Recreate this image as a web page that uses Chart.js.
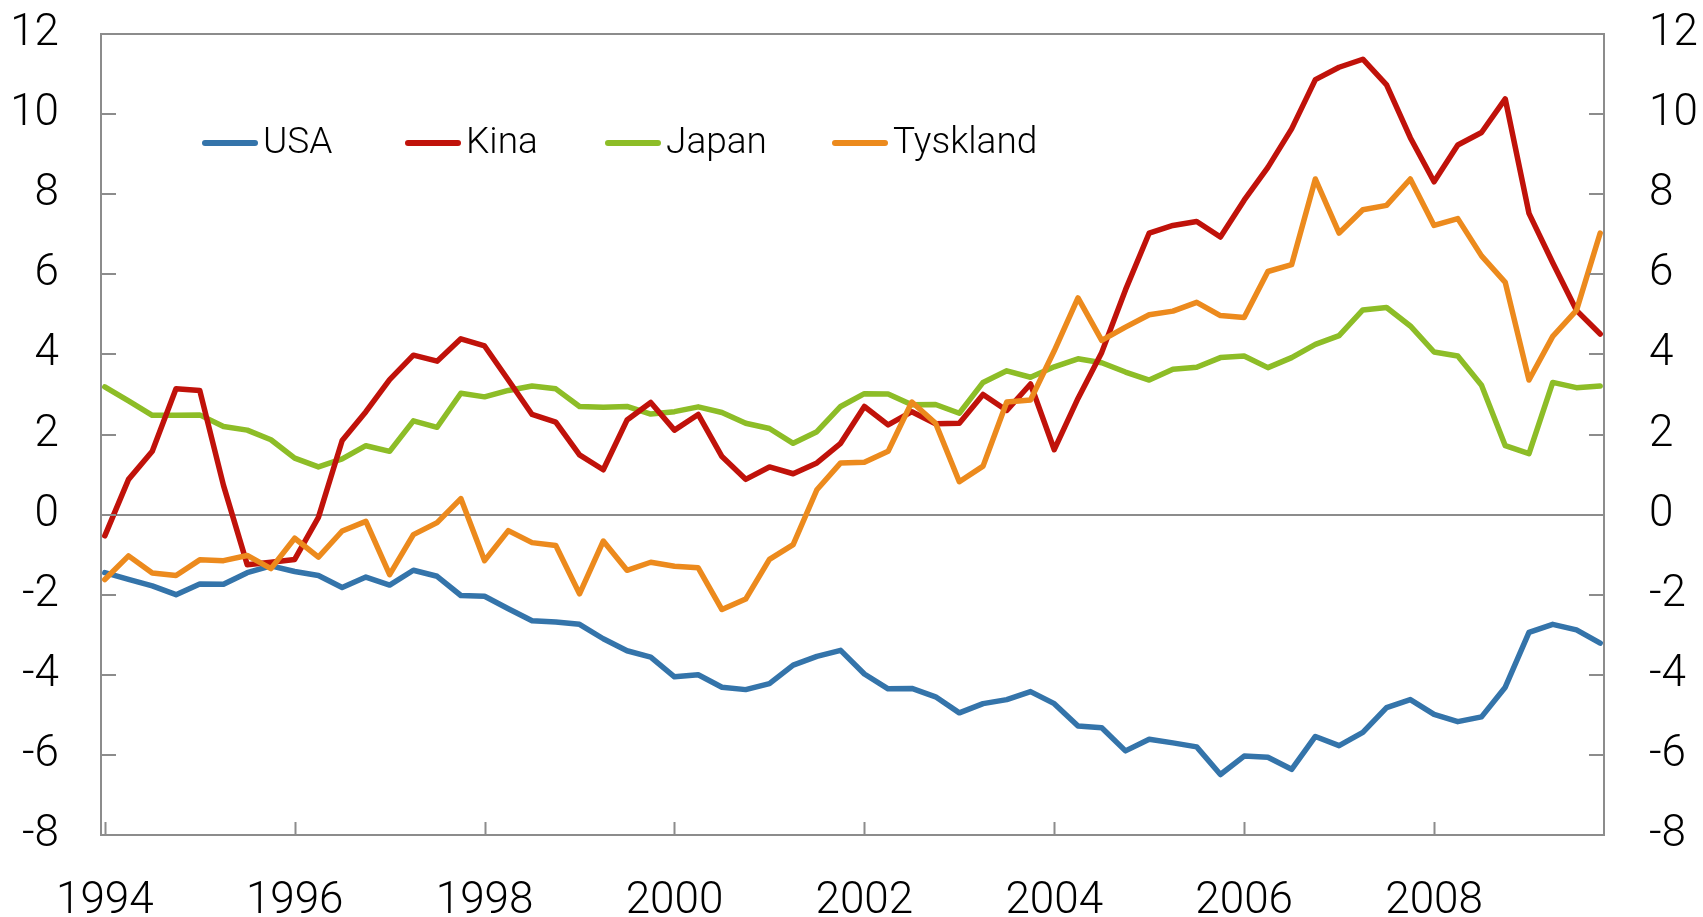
<!DOCTYPE html>
<html lang="no">
<head>
<meta charset="utf-8">
<title>Driftsbalanse</title>
<script src="https://cdn.jsdelivr.net/npm/chart.js@4.4.1/dist/chart.umd.min.js"></script>
<style>
    html, body { margin: 0; padding: 0; background: #fff; }
    #wrap { width: 1703px; height: 917px; }
</style>
</head>
<body>
<div id="wrap"><canvas id="chart" width="1703" height="917"></canvas></div>
<script>
// Kvartaler 1994K1 - 2009K4
const quarters = [];
for (let y = 1994; y <= 2009; y++) {
    for (let q = 1; q <= 4; q++) quarters.push(y + 'K' + q);
}

// Årstall som vises på x-aksen (indeks i quarters)
const yearTicks = [0, 8, 16, 24, 32, 40, 48, 56];
const yearLabels = ['1994', '1996', '1998', '2000', '2002', '2004', '2006', '2008'];

// Verdier på y-aksen
const yTicks = [-8, -6, -4, -2, 0, 2, 4, 6, 8, 10, 12];

const usa = [
    -1.45, -1.62, -1.78, -2.00, -1.73, -1.74, -1.45, -1.28,
    -1.42, -1.52, -1.82, -1.56, -1.76, -1.39, -1.54, -2.02,
    -2.04, -2.35, -2.65, -2.68, -2.74, -3.10, -3.40, -3.56,
    -4.05, -4.00, -4.31, -4.37, -4.22, -3.76, -3.54, -3.39,
    -3.98, -4.35, -4.34, -4.55, -4.95, -4.72, -4.62, -4.42,
    -4.72, -5.28, -5.32, -5.90, -5.61, -5.70, -5.80, -6.49,
    -6.03, -6.06, -6.36, -5.54, -5.77, -5.44, -4.82, -4.62,
    -4.99, -5.17, -5.05, -4.31, -2.94, -2.74, -2.88, -3.21
];

const kina = [
    -0.53, 0.88, 1.58, 3.14, 3.10, 0.73, -1.25, -1.19,
    -1.12, -0.07, 1.85, 2.57, 3.37, 3.98, 3.83, 4.39,
    4.21, 3.36, 2.50, 2.31, 1.49, 1.12, 2.36, 2.80,
    2.11, 2.50, 1.45, 0.88, 1.19, 1.02, 1.29, 1.78,
    2.70, 2.24, 2.57, 2.27, 2.28, 3.00, 2.60, 3.26,
    1.62, 2.90, 4.05, 5.61, 7.03, 7.22, 7.32, 6.93,
    7.85, 8.67, 9.63, 10.86, 11.17, 11.37, 10.73, 9.41,
    8.31, 9.23, 9.54, 10.38, 7.52, 6.29, 5.10, 4.51
];

const japan = [
    3.19, 2.84, 2.48, 2.48, 2.49, 2.20, 2.11, 1.87,
    1.41, 1.19, 1.39, 1.72, 1.58, 2.34, 2.18, 3.03,
    2.94, 3.10, 3.21, 3.14, 2.70, 2.68, 2.70, 2.51,
    2.57, 2.69, 2.55, 2.28, 2.15, 1.78, 2.07, 2.70,
    3.02, 3.01, 2.74, 2.75, 2.53, 3.30, 3.59, 3.43,
    3.69, 3.89, 3.79, 3.56, 3.36, 3.63, 3.68, 3.92,
    3.96, 3.67, 3.92, 4.25, 4.47, 5.11, 5.17, 4.71,
    4.06, 3.96, 3.23, 1.72, 1.52, 3.30, 3.17, 3.21
];

const tyskland = [
    -1.62, -1.03, -1.46, -1.52, -1.13, -1.15, -1.02, -1.35,
    -0.59, -1.06, -0.41, -0.17, -1.50, -0.50, -0.20, 0.40,
    -1.15, -0.40, -0.70, -0.77, -1.98, -0.66, -1.39, -1.19,
    -1.29, -1.33, -2.37, -2.11, -1.12, -0.75, 0.62, 1.29,
    1.31, 1.58, 2.81, 2.28, 0.82, 1.21, 2.81, 2.86,
    4.09, 5.41, 4.35, 4.68, 4.99, 5.08, 5.30, 4.97,
    4.92, 6.07, 6.24, 8.38, 7.03, 7.61, 7.72, 8.38,
    7.22, 7.39, 6.46, 5.80, 3.36, 4.45, 5.10, 7.03
];

const FONT = 'Roboto, "Liberation Sans", Arial, sans-serif';
const FRAME = '#8c8c8c';

// startposisjon (px) for hver forklaringsstrek
const legendX = [202, 405, 605, 832];

document.addEventListener('DOMContentLoaded', function() {
    initChart();
});

// punkter {x: kvartalsindeks, y: verdi}
function toPoints(values) {
    return values.map(function(v, i) { return { x: i, y: v }; });
}

// fjern ekstra luft som Chart.js legger til for tallene i endene
function noPad(scale) {
    scale.paddingTop = 0;
    scale.paddingBottom = 0;
}

// ramme rundt plottet og korte innvendige tick-streker
const framePlugin = {
    id: 'frame',
    afterDatasetsDraw: function(chart) {
        const ctx = chart.ctx;
        const a = chart.chartArea;
        const xs = chart.scales.x;
        const ys = chart.scales.y;
        ctx.save();
        ctx.strokeStyle = FRAME;
        ctx.lineWidth = 2;
        ctx.beginPath();
        yearTicks.forEach(function(t) {
            const px = Math.round(xs.getPixelForValue(t)) + 0.5;
            ctx.moveTo(px, a.bottom);
            ctx.lineTo(px, a.bottom - 13);
        });
        yTicks.forEach(function(t) {
            const py = Math.round(ys.getPixelForValue(t));
            ctx.moveTo(a.left, py);
            ctx.lineTo(a.left + 15, py);
            ctx.moveTo(a.right, py);
            ctx.lineTo(a.right - 15, py);
        });
        ctx.stroke();
        ctx.strokeRect(a.left, a.top, a.right - a.left, a.bottom - a.top);
        ctx.restore();
    }
};

// egen forklaring: kort strek + tekst, inne i plottet
const legendPlugin = {
    id: 'lineLegend',
    afterDraw: function(chart) {
        const ctx = chart.ctx;
        const y = 143;
        ctx.save();
        ctx.font = '300 37px ' + FONT;
        ctx.textBaseline = 'middle';
        ctx.fillStyle = '#000';
        chart.data.datasets.forEach(function(ds, i) {
            const x = legendX[i];
            ctx.strokeStyle = ds.borderColor;
            ctx.lineWidth = 6;
            ctx.lineCap = 'round';
            ctx.beginPath();
            ctx.moveTo(x + 3, y);
            ctx.lineTo(x + 53, y);
            ctx.stroke();
            ctx.fillText(ds.label, x + 61, y + 1);
        });
        ctx.restore();
    }
};

function initChart() {
    const ctx = document.getElementById('chart').getContext('2d');
    const tickFont = { family: FONT, size: 44, weight: 300 };
    window.balanceChart = new Chart(ctx, {
        type: 'line',
        data: {
            datasets: [
                { label: 'USA', data: toPoints(usa), borderColor: '#3474aa', order: 4 },
                { label: 'Kina', data: toPoints(kina), borderColor: '#c0120a', order: 2 },
                { label: 'Japan', data: toPoints(japan), borderColor: '#8dbd27', order: 3 },
                { label: 'Tyskland', data: toPoints(tyskland), borderColor: '#ec8a1d', order: 1 }
            ]
        },
        options: {
            responsive: false,
            animation: false,
            devicePixelRatio: 1,
            layout: {
                padding: { top: 34, left: 0, right: 0, bottom: 0 }
            },
            elements: {
                line: { borderWidth: 5.5, tension: 0, borderJoinStyle: 'round', borderCapStyle: 'round', fill: false },
                point: { radius: 0, hoverRadius: 0 }
            },
            plugins: {
                legend: { display: false },
                tooltip: { enabled: false }
            },
            scales: {
                x: {
                    type: 'linear',
                    min: -0.16,
                    max: 63.16,
                    afterBuildTicks: function(scale) {
                        scale.ticks = yearTicks.map(function(v) { return { value: v }; });
                    },
                    afterFit: function(scale) {
                        scale.height = 82;
                        scale.paddingLeft = 0;
                        scale.paddingRight = 0;
                    },
                    grid: { display: false, drawTicks: false },
                    border: { display: false },
                    ticks: {
                        padding: 41,
                        color: '#000',
                        font: tickFont,
                        maxRotation: 0,
                        autoSkip: false,
                        callback: function(value) {
                            const i = yearTicks.indexOf(value);
                            return i >= 0 ? yearLabels[i] : '';
                        }
                    }
                },
                y: {
                    position: 'left',
                    min: -8,
                    max: 12,
                    afterFit: function(scale) { scale.width = 101; noPad(scale); },
                    grid: {
                        drawTicks: false,
                        lineWidth: 2,
                        color: function(c) { return c.tick && c.tick.value === 0 ? FRAME : 'rgba(0,0,0,0)'; }
                    },
                    border: { display: false },
                    ticks: {
                        stepSize: 2,
                        padding: 42,
                        color: '#000',
                        font: tickFont
                    }
                },
                y2: {
                    position: 'right',
                    min: -8,
                    max: 12,
                    afterFit: function(scale) { scale.width = 99; noPad(scale); },
                    grid: { display: false, drawTicks: false },
                    border: { display: false },
                    ticks: {
                        stepSize: 2,
                        padding: 45,
                        color: '#000',
                        font: tickFont
                    }
                }
            }
        },
        plugins: [framePlugin, legendPlugin]
    });
}
</script>
</body>
</html>
